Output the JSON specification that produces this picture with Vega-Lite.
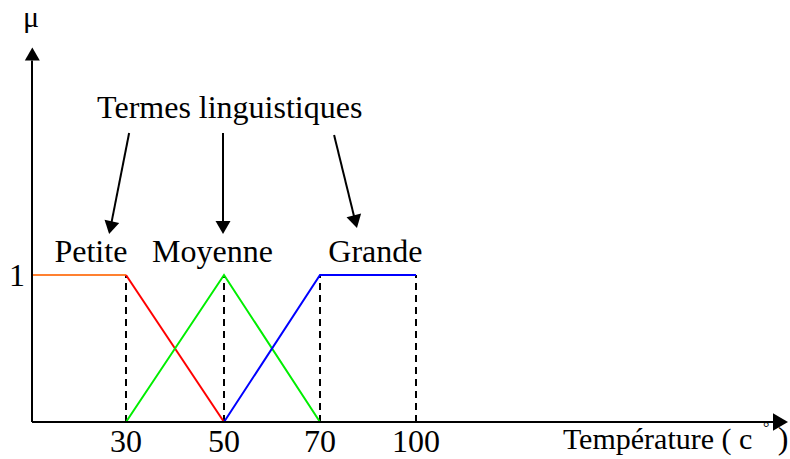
{
  "$schema": "https://vega.github.io/schema/vega-lite/v6.json",
  "width": 790,
  "height": 459,
  "autosize": "none",
  "padding": 0,
  "background": "white",
  "config": {"view": {"stroke": null}},
  "encoding": {
    "x": {"field": "x", "type": "quantitative", "axis": null,
          "scale": {"domain": [0, 30, 50, 70, 100], "range": [32, 126, 224, 320, 416], "zero": false, "nice": false, "clamp": false}},
    "y": {"field": "y", "type": "quantitative", "axis": null,
          "scale": {"domain": [0, 1], "range": [422, 275], "zero": false, "nice": false, "clamp": false}}
  },
  "layer": [
    {
      "data": {"values": [
        {"x": 30, "y": 0, "y2": 1},
        {"x": 50, "y": 0, "y2": 1},
        {"x": 70, "y": 0, "y2": 1},
        {"x": 100, "y": 0, "y2": 1}
      ]},
      "mark": {"type": "rule", "color": "black", "strokeWidth": 2, "strokeDash": [7, 5]},
      "encoding": {"y2": {"field": "y2"}}
    },
    {
      "data": {"values": [
        {"series": "plateau", "x": 0, "y": 1}, {"series": "plateau", "x": 30, "y": 1},
        {"series": "Petite", "x": 30, "y": 1}, {"series": "Petite", "x": 50, "y": 0},
        {"series": "Moyenne", "x": 30, "y": 0}, {"series": "Moyenne", "x": 50, "y": 1}, {"series": "Moyenne", "x": 70, "y": 0},
        {"series": "Grande", "x": 50, "y": 0}, {"series": "Grande", "x": 70, "y": 1}, {"series": "Grande", "x": 100, "y": 1}
      ]},
      "mark": {"type": "line", "strokeWidth": 2},
      "encoding": {
        "color": {"field": "series", "type": "nominal", "legend": null,
                  "scale": {"domain": ["plateau", "Petite", "Moyenne", "Grande"], "range": ["#ff8030", "#ff0000", "#00ee00", "#0000ff"]}}
      }
    },
    {
      "data": {"values": [
        {"axis": "x", "x": 0, "y": 0, "x2": 212, "y2": 0},
        {"axis": "y", "x": 0, "y": 0, "x2": 0, "y2": 2.46}
      ]},
      "mark": {"type": "rule", "color": "black", "strokeWidth": 2},
      "encoding": {"x2": {"field": "x2"}, "y2": {"field": "y2"}}
    },
    {
      "data": {"values": [
        {"term": "Petite", "x": 30.64, "y": 1.966, "x2": 25.05, "y2": 1.322},
        {"term": "Moyenne", "x": 49.8, "y": 1.966, "x2": 49.8, "y2": 1.323},
        {"term": "Grande", "x": 74.4, "y": 1.952, "x2": 81.06, "y2": 1.363}
      ]},
      "mark": {"type": "rule", "color": "black", "strokeWidth": 2},
      "encoding": {"x2": {"field": "x2"}, "y2": {"field": "y2"}}
    },
    {
      "data": {"values": [{"x": 25.05, "y": 1.322}]},
      "mark": {"type": "point", "shape": "triangle-up", "filled": true, "color": "black", "opacity": 1, "size": 225, "angle": 192.3}
    },
    {
      "data": {"values": [{"x": 49.8, "y": 1.323}]},
      "mark": {"type": "point", "shape": "triangle-up", "filled": true, "color": "black", "opacity": 1, "size": 225, "angle": 180}
    },
    {
      "data": {"values": [{"x": 81.06, "y": 1.363}]},
      "mark": {"type": "point", "shape": "triangle-up", "filled": true, "color": "black", "opacity": 1, "size": 225, "angle": 166.1}
    },
    {
      "data": {"values": [{"x": 0.1, "y": 2.503}]},
      "mark": {"type": "point", "shape": "triangle-up", "filled": true, "color": "black", "opacity": 1, "size": 225}
    },
    {
      "data": {"values": [{"x": 213.9, "y": 0}]},
      "mark": {"type": "point", "shape": "triangle-right", "filled": true, "color": "black", "opacity": 1, "size": 300}
    },
    {
      "data": {"values": [
        {"label": "Termes linguistiques", "x": 51.2, "y": 2.068},
        {"label": "Petite", "x": 18.8, "y": 1.088},
        {"label": "Moyenne", "x": 47.65, "y": 1.088},
        {"label": "Grande", "x": 87.3, "y": 1.088},
        {"label": "1", "x": -4.79, "y": 0.925},
        {"label": "30", "x": 30, "y": -0.204},
        {"label": "50", "x": 50, "y": -0.204},
        {"label": "70", "x": 70, "y": -0.204},
        {"label": "100", "x": 100, "y": -0.204},
        {"label": ")", "x": 214.7, "y": -0.184}
      ]},
      "mark": {"type": "text", "font": "Liberation Serif", "fontSize": 32, "color": "black", "align": "center", "baseline": "alphabetic"},
      "encoding": {"text": {"field": "label"}}
    },
    {
      "data": {"values": [{"label": "μ", "x": -0.3, "y": 2.687}]},
      "mark": {"type": "text", "font": "Liberation Serif", "fontSize": 30, "color": "black", "align": "center", "baseline": "alphabetic"},
      "encoding": {"text": {"field": "label"}}
    },
    {
      "data": {"values": [{"label": "Température ( c", "x": 145.9, "y": -0.184}]},
      "mark": {"type": "text", "font": "Liberation Serif", "fontSize": 30, "color": "black", "align": "left", "baseline": "alphabetic"},
      "encoding": {"text": {"field": "label"}}
    },
    {
      "data": {"values": [{"label": "°", "x": 209.4, "y": -0.041}]},
      "mark": {"type": "text", "font": "Liberation Serif", "fontSize": 16, "color": "black", "align": "center", "baseline": "middle"},
      "encoding": {"text": {"field": "label"}}
    }
  ]
}
